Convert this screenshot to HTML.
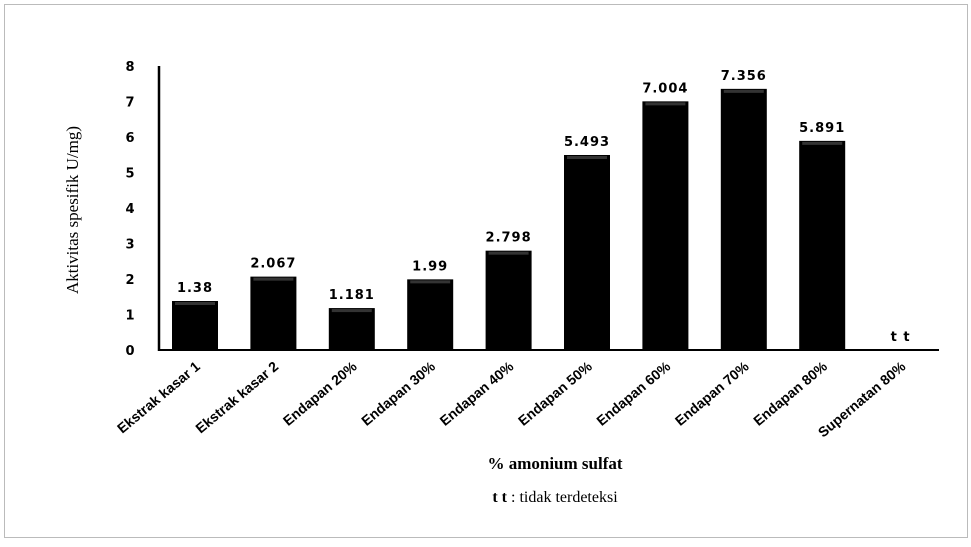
<!DOCTYPE html>
<html><head><meta charset="utf-8"><style>
body{margin:0;background:#fff;}
svg text{font-family:"DejaVu Sans","Liberation Sans",sans-serif;}
</style></head><body>
<svg width="971" height="542" viewBox="0 0 971 542" xmlns="http://www.w3.org/2000/svg">
<rect x="4.5" y="4.5" width="963" height="533" fill="#fff" stroke="#bbb"/>
<g id="plot"></g>
<text x="0" y="0" transform="translate(78,210) rotate(-90)" text-anchor="middle" font-size="17" style="font-family:'Liberation Serif',serif">Aktivitas spesifik U/mg)</text>
<text x="555" y="469" text-anchor="middle" font-size="17" font-weight="bold" style="font-family:'Liberation Serif',serif">% amonium sulfat</text>
<text x="555" y="502" text-anchor="middle" font-size="16" style="font-family:'Liberation Serif',serif"><tspan font-weight="bold">t t</tspan> : tidak terdeteksi</text>
</svg>
<script>
const categories=["Ekstrak kasar 1","Ekstrak kasar 2","Endapan 20%","Endapan 30%","Endapan 40%","Endapan 50%","Endapan 60%","Endapan 70%","Endapan 80%","Supernatan 80%"];
const values=[1.38,2.067,1.181,1.99,2.798,5.493,7.004,7.356,5.891,null];
const valueLabels=["1.38","2.067","1.181","1.99","2.798","5.493","7.004","7.356","5.891","t t"];
const yTicks=[0,1,2,3,4,5,6,7,8];
const NS="http://www.w3.org/2000/svg";
const g=document.getElementById('plot');
const y0=350,yTop=66,yMax=8;
function yScale(v){return y0-(v/yMax)*(y0-yTop);}
function xScale(i){return 195+78.4*i;}
function mk(tag,attrs,parent){const e=document.createElementNS(NS,tag);for(const k in attrs)e.setAttribute(k,attrs[k]);(parent||g).appendChild(e);return e;}
yTicks.forEach(t=>{
  const e=mk('text',{x:130,y:yScale(t)+5,'text-anchor':'middle','font-size':13,'font-weight':'bold'});
  e.textContent=t;
  
  
});
categories.forEach((c,i)=>{
  const cx=xScale(i);
  const v=values[i];
  if(v!==null){
    const r=mk('rect',{x:cx-23,y:yScale(v),width:46,height:y0-yScale(v),fill:'#000'});
    
    
    const h=mk('rect',{x:cx-20,y:yScale(v)+1,width:40,height:3,fill:'#333'});
    
    
  }
  const lv=mk('text',{x:cx,y:(v!==null?yScale(v):y0)-9,'text-anchor':'middle','font-size':13,'font-weight':'bold','letter-spacing':'1'});
  lv.textContent=valueLabels[i];
  
  
  const lx=cx+6,ly=368;
  const xl=mk('text',{x:lx,y:ly,'text-anchor':'end','font-size':14,'font-weight':'bold',transform:`rotate(-40 ${lx} ${ly})`,style:"font-family:'Liberation Sans',sans-serif"});
  xl.textContent=c;
  
  
});
const ya=mk('line',{x1:159,y1:yTop,x2:159,y2:y0+1,stroke:'#000','stroke-width':2.5});


const xa=mk('line',{x1:158,y1:y0,x2:939,y2:y0,stroke:'#000','stroke-width':2});


</script>
</body></html>
